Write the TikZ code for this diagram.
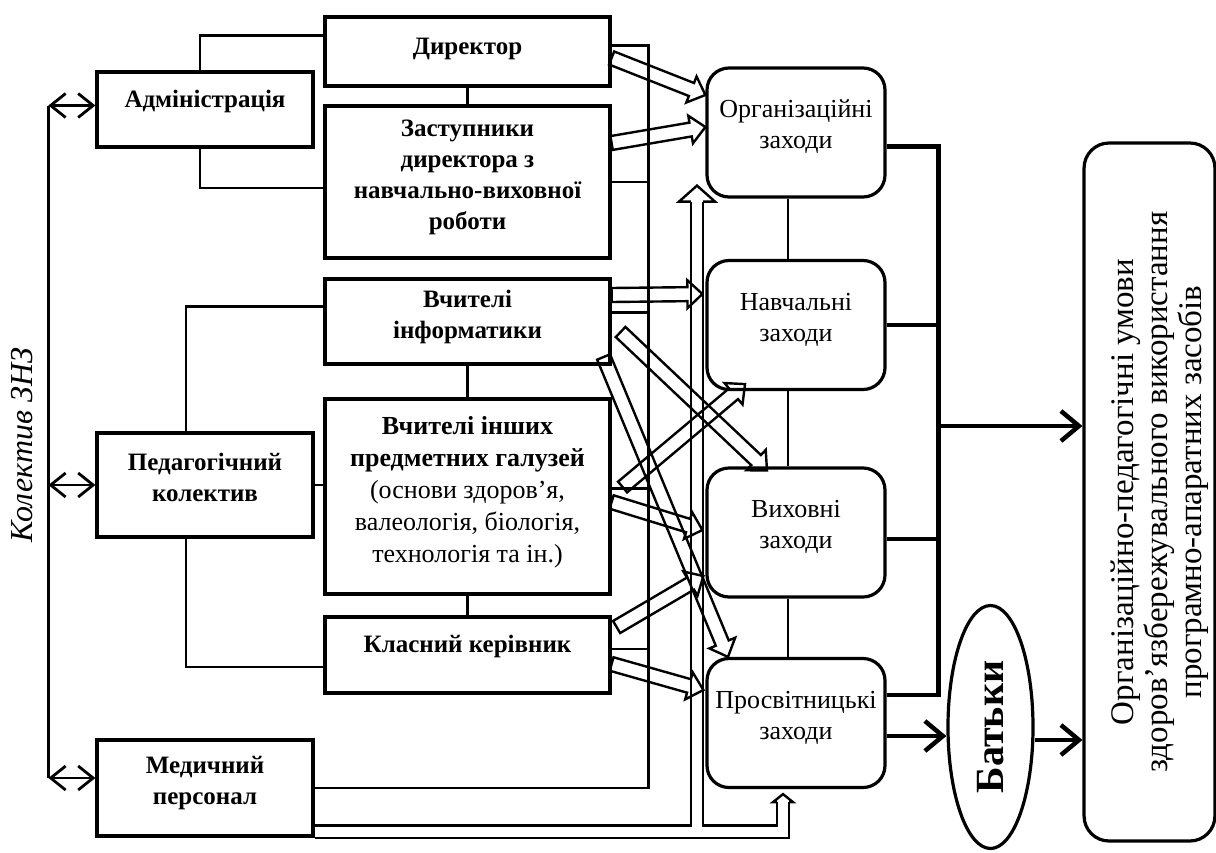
\documentclass[tikz,border=0pt]{standalone}
\usepackage{fontspec}
\setmainfont{Liberation Serif}
\usetikzlibrary{calc}
\usetikzlibrary{shapes.geometric}
\usetikzlibrary{arrows.meta}

% hollow arrow from #1 to #2
\newcommand{\hollowarrow}[2]{%
  \coordinate (ha-s) at #1;
  \coordinate (ha-e) at #2;
  \coordinate (ha-c) at ($(ha-e)!15pt!(ha-s)$);
  \draw[hollow] ($(ha-s)!7pt!90:(ha-e)$) -- ($(ha-c)!7pt!90:(ha-e)$)
    -- ($(ha-c)!14pt!90:(ha-e)$) -- (ha-e) -- ($(ha-c)!14pt!-90:(ha-e)$)
    -- ($(ha-c)!7pt!-90:(ha-e)$) -- ($(ha-s)!7pt!-90:(ha-e)$) -- cycle;}

% open head on a double line: base #1, tip #2, half width #3
\newcommand{\hollowhead}[3]{%
  \coordinate (hh-b) at #1;
  \coordinate (hh-t) at #2;
  \draw[hollow] ($(hh-b)!6.2pt!90:(hh-t)$) -- ($(hh-b)!#3!90:(hh-t)$) -- (hh-t)
    -- ($(hh-b)!#3!-90:(hh-t)$) -- ($(hh-b)!6.2pt!-90:(hh-t)$);}

\begin{document}
\begin{tikzpicture}[x=1pt,y=-1pt,
  box/.style={draw,line width=3.2pt,fill=white,align=center,text depth=15pt,font=\fontsize{25}{31}\selectfont\bfseries},
  zbox/.style={draw,line width=3.2pt,rounded corners=22pt,fill=white,align=center,text depth=16pt,minimum width=178pt,minimum height=129pt,font=\fontsize{26}{31}\selectfont},
  conn/.style={line width=2.8pt},
  biarrow/.style={line width=2.8pt,{Straight Barb[length=15pt,width=24pt]}-{Straight Barb[length=15pt,width=24pt]}},
  busline/.style={line width=4.5pt},
  bigarrow/.style={line width=4.5pt,-{Straight Barb[length=18pt,width=30pt]}},
  linkline/.style={line width=2pt},
  hollow/.style={line width=2.4pt},
  hollowline/.style={double,line width=2.4pt,double distance=10pt}]
\useasboundingbox (0,0) rectangle (1216,852);

% staff
\node[box,minimum width=216pt,minimum height=75pt,text depth=22pt] (adm) at (205,109.5) {Адміністрація};
\node[box,minimum width=285pt,minimum height=69pt,text depth=11pt] (dir) at (467.5,51.5) {Директор};
\node[box,minimum width=285pt,minimum height=152pt] (zast) at (467.5,182) {Заступники\\директора з\\навчально-виховної\\роботи};
\node[box,minimum width=285pt,minimum height=85pt] (inf) at (467.5,321.5) {Вчителі\\інформатики};
\node[box,minimum width=285pt,minimum height=195pt,font=\fontsize{26}{32}\selectfont] (insh) at (467.5,496.5) {\textbf{Вчителі інших}\\\textbf{предметних галузей}\\(основи здоров’я,\\валеологія, біологія,\\технологія та ін.)};
\node[box,minimum width=285pt,minimum height=76pt,text depth=22pt] (klas) at (467.5,655) {Класний керівник};
\node[box,minimum width=216pt,minimum height=104pt] (ped) at (205,485) {Педагогічний\\колектив};
\node[box,minimum width=216pt,minimum height=96pt] (med) at (205,788) {Медичний\\персонал};
\node[rotate=90,font=\fontsize{32}{36}\selectfont\itshape] (kolektyv) at (22,445) {Колектив ЗНЗ};

% measures
\node[zbox] (org) at (796,132.5) {Організаційні\\заходи};
\node[zbox] (navch) at (796,325) {Навчальні\\заходи};
\node[zbox] (vykh) at (796,532.5) {Виховні\\заходи};
\node[zbox] (prosv) at (796,723) {Просвітницькі\\заходи};
\node[draw,ellipse,line width=3.2pt,minimum width=85pt,minimum height=243pt,inner sep=0pt] (batky) at (990.5,727) {\rotatebox{90}{\fontsize{40}{44}\selectfont\bfseries Батьки}};
\node[draw,line width=3.2pt,rounded corners=25pt,minimum width=123pt,minimum height=698pt] (umovy) at (1149.5,492) {\rotatebox{90}{\fontsize{33}{34}\selectfont\begin{tabular}{@{}c@{}}\rule{0pt}{46pt}Організаційно-педагогічні умови\\здоров’язбережувального використання\\програмно-апаратних засобів\end{tabular}}};

% left side
\coordinate (kol) at ([xshift=-47pt]adm.west);
\coordinate (a1) at ([yshift=4pt]adm.west);
\coordinate (m1) at ([yshift=10pt]med.west);
\draw[conn] (a1 -| kol) -- (m1 -| kol);
\draw[biarrow] (a1 -| kol) -- (a1);
\draw[biarrow] (ped.west -| kol) -- (ped.west);
\draw[biarrow] (m1 -| kol) -- (m1);

\draw[conn] ([xshift=-5pt]adm.north) |- ([yshift=16pt]dir.west);
\draw[conn] ([xshift=-5pt]adm.south) |- ([yshift=-6pt]zast.west);
\draw[conn] (dir) -- (zast);
\draw[conn] ([xshift=-19pt]ped.north) |- ([yshift=15pt]inf.west);
\draw[conn] ([xshift=-19pt]ped.south) |- ([yshift=-12pt]klas.west);
\draw[conn] (ped.east) -- (ped.east -| insh.west);
\draw[conn] (inf) -- (insh);
\draw[conn] (insh) -- (klas);

% rail behind the staff boxes
\coordinate (rail) at ([xshift=37pt]dir.east);
\coordinate (r1) at ([yshift=6pt]dir.east);
\coordinate (r3) at ([yshift=9pt]inf.east);
\coordinate (r4) at ([yshift=8pt]insh.east);
\coordinate (r5) at ([yshift=6pt]klas.east);
\draw[conn] (r1) -- (r1 -| rail) -- (rail |- med.east) -- (med.east);
\draw[conn] (zast.east) -- (zast.east -| rail);
\draw[conn] (r3) -- (r3 -| rail);
\draw[conn] (r4) -- (r4 -| rail);
\draw[conn] (r5) -- (r5 -| rail);

% links between measures
\draw[linkline] ([xshift=-8pt]org.south) -- ([xshift=-8pt]navch.north);
\draw[linkline] ([xshift=-8pt]navch.south) -- ([xshift=-8pt]vykh.north);
\draw[linkline] ([xshift=-8pt]vykh.south) -- ([xshift=-8pt]prosv.north);

% double line from the medical staff
\coordinate (mfoot) at ([yshift=-43.5pt]med.east);
\coordinate (pfoot) at ([xshift=-13pt,yshift=-13pt]prosv.south);
\coordinate (ofoot) at ([xshift=-99pt,yshift=-3pt]org.south);
\draw[hollowline] (mfoot) -- (mfoot -| pfoot) -- (pfoot) (mfoot -| ofoot) -- (ofoot);
\hollowhead{(ofoot)}{([xshift=-99pt,yshift=13pt]org.south)}{18pt}
\hollowhead{(pfoot)}{([xshift=-13pt,yshift=-5pt]prosv.south)}{10pt}

% hollow arrows
\hollowarrow{([yshift=-6.5pt]dir.east)}{([yshift=37.5pt]org.west)}
\hollowarrow{([yshift=39pt]zast.east)}{([yshift=5.5pt]org.west)}
\hollowarrow{([yshift=26.5pt]inf.east)}{([xshift=-3pt,yshift=31pt]navch.west)}
\hollowarrow{([xshift=9pt,yshift=-10.5pt]inf.east)}{([xshift=-29pt,yshift=-4pt]vykh.north)}
\hollowarrow{([xshift=-8pt,yshift=-35.5pt]inf.east)}{([xshift=-68pt]prosv.north)}
\hollowarrow{([xshift=11pt,yshift=9.5pt]insh.east)}{([xshift=-51pt,yshift=7pt]navch.south)}
\hollowarrow{([yshift=-5.5pt]insh.east)}{([xshift=-3pt,yshift=2.5pt]vykh.west)}
\hollowarrow{([xshift=5pt,yshift=28pt]klas.east)}{([xshift=-2pt,yshift=-43.5pt]vykh.west)}
\hollowarrow{([yshift=-9pt]klas.east)}{([xshift=-2pt,yshift=33pt]prosv.west)}

% bus to the conditions
\coordinate (bus) at ([xshift=52pt]org.east);
\coordinate (b1) at ([yshift=-14pt]org.east);
\coordinate (b3) at ([yshift=-6.5pt]vykh.east);
\coordinate (b4) at ([yshift=28pt]prosv.east);
\coordinate (b5) at ([yshift=66pt]umovy.west);
\coordinate (p1) at ([yshift=-13pt]prosv.east);
\coordinate (p2) at ([yshift=-13pt]batky.east);
\draw[busline] (b1) -- (b1 -| bus) -- (b4 -| bus) -- (b4);
\draw[busline] (navch.east) -- (navch.east -| bus);
\draw[busline] (b3) -- (b3 -| bus);
\draw[bigarrow] (b5 -| bus) -- (b5);
\draw[bigarrow] (p1) -- (p1 -| batky.west);
\draw[bigarrow] (p2) -- (p2 -| umovy.west);
\end{tikzpicture}
\end{document}
